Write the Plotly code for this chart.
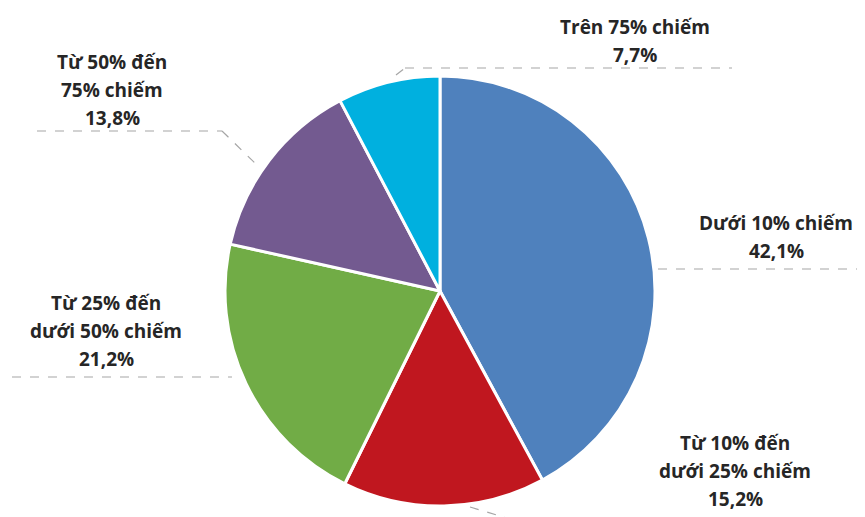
import plotly.graph_objects as go

W, H = 865, 517
OFF = 8  # default page body margin

categories = ["Dưới 10% chiếm", "Từ 10% đến dưới 25% chiếm", "Từ 25% đến dưới 50% chiếm",
              "Từ 50% đến 75% chiếm", "Trên 75% chiếm"]
values = [42.1, 15.2, 21.2, 13.8, 7.7]
value_labels = ["42,1%", "15,2%", "21,2%", "13,8%", "7,7%"]
colors = ["#4F81BD", "#C0171F", "#71AC46", "#735A90", "#00B0DF"]

# label text lines (Excel-style wrapping)
label_lines = [
    ["Dưới 10% chiếm", "42,1%"],
    ["Từ 10% đến", "dưới 25% chiếm", "15,2%"],
    ["Từ 25% đến", "dưới 50% chiếm", "21,2%"],
    ["Từ 50% đến", "75% chiếm", "13,8%"],
    ["Trên 75% chiếm", "7,7%"],
]
# label layout (pixel positions: center x, first-line y)
label_pos = [(776, 223), (735, 443), (106, 303), (112, 62), (635, 27)]
LINE_H = 28

# leader lines (pixel polylines)
leaders = [
    [(658, 269), (860, 269)],
    [(470, 507), (510, 519)],
    [(12, 377), (232, 377)],
    [(37, 131), (222, 131), (258, 166)],
    [(396, 75), (405, 68), (732, 68)],
]

PW, PH = W - OFF, H - OFF

def px(x):
    return (x - OFF) / PW

def py(y):
    return 1 - (y - OFF) / PH

cx, cy, R = 440, 291, 215

fig = go.Figure(go.Pie(
    labels=categories,
    values=values,
    sort=False,
    direction="clockwise",
    rotation=0,
    marker=dict(colors=colors, line=dict(color="white", width=3)),
    textinfo="none",
    hoverinfo="label+percent",
    domain=dict(x=[px(cx - R), px(cx + R)], y=[py(cy + R), py(cy - R)]),
    showlegend=False,
))

annotations = []
for lines, (lx, ly) in zip(label_lines, label_pos):
    for i, t in enumerate(lines):
        annotations.append(dict(
            x=px(lx), y=py(ly + i * LINE_H), xref="paper", yref="paper",
            text=t, showarrow=False, xanchor="center", yanchor="middle",
            font=dict(family="Open Sans", size=19, color="#262626", weight="bold"),
        ))

shapes = []
for pts in leaders:
    for (x0, y0), (x1, y1) in zip(pts[:-1], pts[1:]):
        shapes.append(dict(
            type="line", xref="paper", yref="paper",
            x0=px(x0), y0=py(y0), x1=px(x1), y1=py(y1),
            line=dict(color="#A6A6A6", width=1.2, dash="dash"),
        ))

fig.update_layout(
    width=PW, height=PH,
    margin=dict(l=0, r=0, t=0, b=0),
    paper_bgcolor="white", plot_bgcolor="white",
    annotations=annotations, shapes=shapes,
)

fig.write_html("out.html")
